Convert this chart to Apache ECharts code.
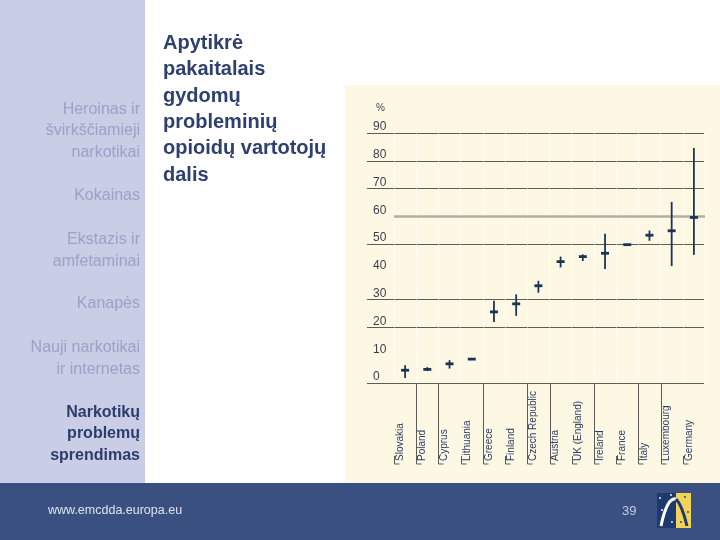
<!DOCTYPE html>
<html><head><meta charset="utf-8">
<script src="https://cdn.jsdelivr.net/npm/echarts@6/dist/echarts.min.js"></script>
<style>html,body{margin:0;padding:0;background:#fff}#c{width:720px;height:540px}</style>
</head><body><div id="c"></div>
<script>
// ---- data ----
const countries = ['Slovakia','Poland','Cyprus','Lithuania','Greece','Finland','Czech Republic','Austria','UK (England)','Ireland','France','Italy','Luxembourg','Germany'];
const estimate  = [4.6, 4.9, 6.9, 8.6, 25.6, 28.5, 35.0, 43.7, 45.5, 46.7, 49.8, 53.2, 54.8, 59.6];
const lowBound  = [1.8, 4.3, 5.2, null, 22.0, 24.2, 32.5, 41.6, 43.9, 41.0, null, 51.2, 42.1, 46.1];
const highBound = [6.4, 5.7, 8.2, null, 29.6, 31.9, 36.8, 45.5, 46.3, 53.7, null, 54.9, 65.2, 84.6];
const yTicks = [0, 10, 20, 30, 40, 50, 60, 70, 80, 90];
const gridLineValues = [0, 20, 30, 50, 70, 80, 90];
const highlightValue = 60;
const yUnit = '%';
const titleText = 'Apytikrė\npakaitalais\ngydomų\nprobleminių\nopioidų vartotojų\ndalis';
const sidebarLabels = ['Heroinas ir\nšvirkščiamieji\nnarkotikai', 'Kokainas', 'Ekstazis ir\namfetaminai', 'Kanapės', 'Nauji narkotikai\nir internetas', 'Narkotikų\nproblemų\nsprendimas'];
const activeSidebar = 5;
const footerUrl = 'www.emcdda.europa.eu';
const pageNumber = '39';

// ---- styles / layout ----
const longSeparator = [false,true,true,false,true,false,true,true,false,true,false,true,true,false];
const sidebarCenters = [131, 196, 250.5, 304, 358.5, 434];
const navy = '#1b3455';

const chart = echarts.init(document.getElementById('c'), null, {renderer: 'canvas'});

const graphics = [
  {type:'rect', z:-10, shape:{x:0,y:0,width:720,height:540}, style:{fill:'#ffffff'}},
  {type:'rect', z:-9, shape:{x:345,y:85,width:375,height:398}, style:{fill:'#fdf8e4'}},
  {type:'rect', z:-9, shape:{x:0,y:0,width:145,height:483}, style:{fill:'#c9cde6'}},
  {type:'rect', z:-9, shape:{x:0,y:483,width:720,height:57}, style:{fill:'#3a5080'}},
  {type:'text', z:5, style:{text:titleText, x:163, y:30, verticalAlign:'top', align:'left',
    font:'bold 20px "Liberation Sans", Arial, sans-serif', lineHeight:26.4, fill:'#2e4070'}},
  {type:'text', z:5, style:{text:footerUrl, x:48, y:511, verticalAlign:'middle', align:'left',
    font:'12.5px "Liberation Sans", Arial, sans-serif', fill:'#dfe3f0'}},
  {type:'text', z:5, style:{text:pageNumber, x:622, y:511, verticalAlign:'middle', align:'left',
    font:'13px "Liberation Sans", Arial, sans-serif', fill:'#c5cbe0'}},
  {type:'rect', z:5, shape:{x:657,y:493,width:19,height:35}, style:{fill:'#1d3a6e'}},
  {type:'rect', z:5, shape:{x:676,y:493,width:15,height:35}, style:{fill:'#f2d35a'}},
  {type:'bezierCurve', z:6, shape:{x1:661, y1:526, cpx1:667, cpy1:497, x2:676, y2:499}, style:{stroke:'#ffffff', lineWidth:3, fill:null}},
  {type:'bezierCurve', z:6, shape:{x1:676, y1:499, cpx1:682, cpy1:505, x2:687, y2:526}, style:{stroke:'#1d3a6e', lineWidth:3, fill:null}}
];
[[660,498],[671,495],[662,510],[672,522],[685,497],[688,512],[681,522]].forEach(p => {
  graphics.push({type:'circle', z:6, shape:{cx:p[0], cy:p[1], r:0.9}, style:{fill: p[0] < 676 ? '#ffffff' : '#1d3a6e'}});
});
sidebarLabels.forEach((t, i) => {
  graphics.push({type:'text', z:5, style:{text:t, x:140, y:sidebarCenters[i], align:'right', verticalAlign:'middle',
    lineHeight:21.5,
    font:(i === activeSidebar ? 'bold ' : '') + '16px "Liberation Sans", Arial, sans-serif',
    fill: i === activeSidebar ? '#2c3c6c' : '#9ba2c6'}});
});

const option = {
  animation: false,
  graphic: graphics,
  grid: [
    {left:394, right:15, top:133, bottom:157},
    {left:367, right:16, top:133, bottom:157}
  ],
  xAxis: [
    {gridIndex:0, type:'category', data:countries,
     axisLine:{show:false}, axisTick:{show:false},
     splitLine:{show:true, lineStyle:{color:'rgba(255,255,255,0.5)', width:1}},
     axisLabel:{interval:0, rotate:90, align:'left', verticalAlign:'bottom', margin:78,
       fontSize:10, color:'#283c64', fontFamily:'"Liberation Sans", Arial, sans-serif'}},
    {gridIndex:1, type:'value', min:0, max:1, show:false}
  ],
  yAxis: [
    {gridIndex:0, type:'value', min:0, max:90, interval:10, show:false},
    {gridIndex:1, type:'value', min:0, max:90, interval:10,
     name:yUnit, nameLocation:'end', nameGap:25,
     nameTextStyle:{align:'left', verticalAlign:'middle', padding:[0,0,0,9], fontSize:10, color:'#3d3d4d',
       fontFamily:'"Liberation Sans", Arial, sans-serif'},
     axisLine:{show:false}, axisTick:{show:false},
     axisLabel:{inside:true, margin:6, align:'left', verticalAlign:'bottom', fontSize:12, color:'#3d3d4d',
       fontFamily:'"Liberation Sans", Arial, sans-serif'},
     splitLine:{show:true, lineStyle:{width:1,
       color: yTicks.map(v => gridLineValues.includes(v) ? '#5e5a55' : 'rgba(0,0,0,0)')}}}
  ],
  series: [
    {type:'line', xAxisIndex:0, yAxisIndex:0, data:[], silent:true, z:1,
     markLine:{symbol:'none', silent:true, label:{show:false}, z:1,
       lineStyle:{color:'#b3ada3', width:2.5, type:'solid'},
       data:[{yAxis:highlightValue}]}},
    {type:'custom', xAxisIndex:0, yAxisIndex:0, clip:false, z:10,
     data: countries.map((c, i) => [i, estimate[i], lowBound[i], highBound[i]]),
     encode:{x:0, y:[1,2,3]},
     renderItem: function (params, api) {
       const i = api.value(0);
       const c = api.coord([i, api.value(1)]);
       const band = api.size([1, 0])[0];
       const children = [];
       const lo = api.value(2), hi = api.value(3);
       if (lo !== null && hi !== null && !isNaN(lo) && !isNaN(hi)) {
         const p1 = api.coord([i, lo]), p2 = api.coord([i, hi]);
         children.push({type:'line', shape:{x1:c[0], y1:p1[1], x2:c[0], y2:p2[1]},
           style:{stroke:navy, lineWidth:1.8}});
       }
       children.push({type:'rect', shape:{x:c[0]-4, y:c[1]-1.4, width:8, height:2.8}, style:{fill:navy}});
       const base = api.coord([i, 0]);
       const bx = Math.round(base[0] - band / 2) + 0.5;
       const top = longSeparator[i] ? base[1] : base[1] + 73;
       const bottom = base[1] + 81;
       children.push({type:'polyline', shape:{points:[[bx, top], [bx, bottom], [bx + 5, bottom]]},
         style:{stroke:'#5e5a55', fill:null, lineWidth:1}});
       return {type:'group', children: children};
     }}
  ]
};
chart.setOption(option);
</script>
</body></html>
